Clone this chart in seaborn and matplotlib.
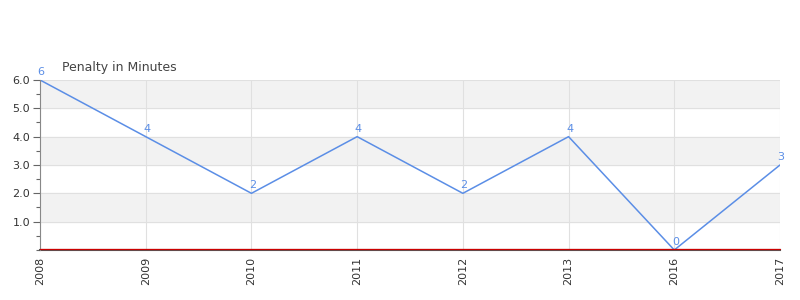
import matplotlib
matplotlib.use("Agg")
import matplotlib.pyplot as plt
import seaborn as sns
import pandas as pd
from matplotlib.ticker import MultipleLocator, FixedLocator

years = ["2008", "2009", "2010", "2011", "2012", "2013", "2016", "2017"]
penalty = [6, 4, 2, 4, 2, 4, 0, 3]
title = "Penalty in Minutes"

sns.set_theme(style="white")
plt.rcParams['font.family'] = ['DejaVu Sans']

df = pd.DataFrame({"year": years, "pim": penalty})
fig = plt.figure(figsize=(8, 3), dpi=100)
ax = fig.add_axes([0.05, 0.1667, 0.925, 0.5667])

line_color = "#5b8ee6"
sns.lineplot(data=df, x="year", y="pim", ax=ax, color=line_color, linewidth=1.1, sort=False)

ax.set_xlim(0, len(years) - 1)
ax.set_ylim(0, 6)
for lo in [1, 3, 5]:
    ax.axhspan(lo, lo + 1, color="#f2f2f2", zorder=0)
for yv in range(1, 7):
    ax.axhline(yv, color="#e0e0e0", linewidth=0.8, zorder=0.5)
for i in range(len(years)):
    ax.axvline(i, color="#e0e0e0", linewidth=0.8, zorder=0.5)

for i, v in enumerate(penalty):
    ax.text(i + 0.01, v + 0.1, str(v), color=line_color, fontsize=8, ha="center", va="bottom")

ax.yaxis.set_major_locator(FixedLocator([1, 2, 3, 4, 5, 6]))
ax.yaxis.set_minor_locator(MultipleLocator(0.5))
ax.set_yticklabels([f"{v:.1f}" for v in [1, 2, 3, 4, 5, 6]])
ax.tick_params(axis="y", which="both", left=True, length=5, width=0.8, color="#666666",
               labelsize=8, labelcolor="#333333", pad=2)
ax.tick_params(axis="y", which="minor", length=3)
ax.set_xticks(range(len(years)))
ax.set_xticklabels(years, rotation=90)
ax.tick_params(axis="x", length=0, labelsize=8, labelcolor="#333333", pad=5)

ax.set_xlabel("")
ax.set_ylabel("")
for s in ["top", "right"]:
    ax.spines[s].set_visible(False)
ax.spines["left"].set_color("#888888")
ax.spines["left"].set_linewidth(0.8)
ax.spines["bottom"].set_color("#555555")
ax.spines["bottom"].set_linewidth(1.5)
ax.spines["bottom"].set_zorder(2)
ax.axhline(0.02, color="#cc0000", linewidth=0.9, zorder=4, clip_on=False)

fig.text(62 / 800, 1 - 67 / 300, title, fontsize=9, color="#444444", ha="left", va="center")

fig.savefig("out.png", dpi=100)
